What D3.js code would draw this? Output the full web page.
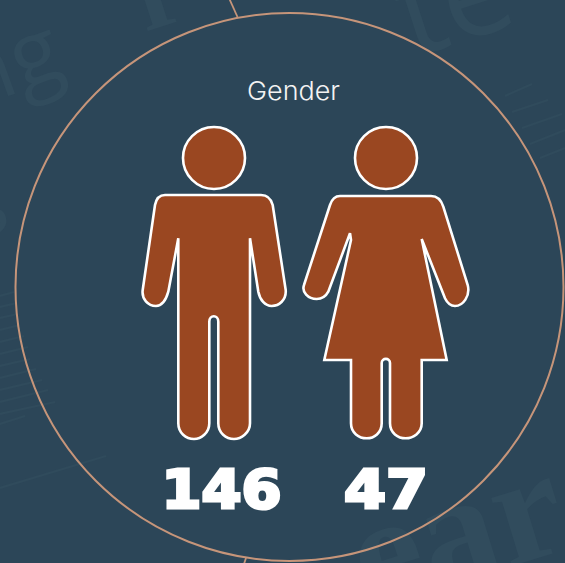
<!DOCTYPE html>
<html><head><meta charset="utf-8">
<script src="https://cdn.jsdelivr.net/npm/d3@7"></script>
<style>html,body{margin:0;padding:0;background:#2c4658;overflow:hidden}svg{display:block}</style>
</head><body><svg id="c" width="565" height="563"></svg>
<script>
const categories = ["Male", "Female"];
const counts = [146, 47];
const countWidths = [120, 84];
const chartTitle = "Gender";
const bgWords = [
  {t:"ng", x:-30, y:110, s:90, r:-20, f:"'Open Sans',sans-serif", w:400},
  {t:"r",  x:145, y:32,  s:110, r:-18, f:"'Liberation Serif',serif", w:700},
  {t:"te", x:412, y:58,  s:125, r:-18, f:"'Open Sans',sans-serif", w:400},
  {t:"g",  x:-35, y:225, s:80,  r:-18, f:"'Open Sans',sans-serif", w:400},
  {t:"ear",x:368, y:610, s:155, r:-17, f:"'Liberation Serif',serif", w:700}
];
const bgRules = [
  [0,296,14,292],[0,307,17,303],[0,318,18,314],[0,330,20,325],[0,342,24,336],[0,354,28,347],
  [0,366,30,359],[0,378,36,369],[0,390,42,380],[0,402,48,390],[0,414,55,402],[0,424,25,416],[0,488,106,456],
  [505,96,532,84],[512,112,548,100],[522,128,562,114],[530,144,565,130],[540,158,565,148]
];
const manPath = "M165 195H261Q270 195 272.7 205L285.7 290C286.5 300 279 306 271.7 306C265 306 260 300 258.3 291.7L250 238.3V423.3C250 433 241 439 234 439C226 439 218.3 433 218.3 423.3V321.7C218.3 314.5 209.3 314.5 209.3 321.7V423.3C209.3 433 201 439 194 439C186 439 178.3 433 178.3 423.3V238.3L168.3 291.7C166 300 162 306 156 306C148 306 141.5 299 142.7 290L155 205Q157 195 165 195Z";
const womanPath = "M340 196H431Q440 196 443.3 206.7L467.7 285C470.5 296 463 306 455 306C450 306 447 302.5 445 298.3L421.7 239L446.7 360H421.7V423.3C421.7 433 413 438.3 405.7 438.3C398 438.3 390 433 390 423.3V363C390 357.5 381.7 357.5 381.7 363V423.3C381.7 433 374 438.3 366.7 438.3C359 438.3 351 433 351 423.3V360H324.3L351 240L350 233.3L328.3 291.7C326 296 322 299 316.7 299C308 299 301.5 292 304 285L330 205Q333 196 340 196Z";
const shapes = [manPath, womanPath];
const headCx = [214, 386];

const W = 565, H = 563;
const svg = d3.select("#c");
svg.append("rect").attr("width",W).attr("height",H).attr("fill","#2c4658");

const bgColor = "#314c5d";
svg.append("g").attr("fill",bgColor).selectAll("text").data(bgWords).join("text")
  .attr("transform",d=>`translate(${d.x},${d.y}) rotate(${d.r})`)
  .attr("font-family",d=>d.f).attr("font-weight",d=>d.w)
  .attr("font-size",d=>d.s).text(d=>d.t);
svg.append("g").attr("stroke","#304b5c").attr("stroke-width",2.2).selectAll("line").data(bgRules).join("line")
  .attr("x1",d=>d[0]).attr("y1",d=>d[1]).attr("x2",d=>d[2]).attr("y2",d=>d[3]);

const ringColor = "#c6957a";
svg.append("line").attr("x1",229).attr("y1",-2).attr("x2",237.5).attr("y2",17).attr("stroke",ringColor).attr("stroke-width",1.8);
svg.append("line").attr("x1",244).attr("y1",564).attr("x2",246).attr("y2",558).attr("stroke",ringColor).attr("stroke-width",1.8);
svg.append("circle").attr("cx",289.5).attr("cy",287).attr("r",274).attr("fill","none").attr("stroke",ringColor).attr("stroke-width",2);

svg.append("text").attr("x",293.5).attr("y",100).attr("text-anchor","middle")
  .attr("font-family","Inter,sans-serif").attr("font-size",26).attr("font-weight",300)
  .attr("textLength",93).attr("lengthAdjust","spacingAndGlyphs")
  .attr("fill","#f3f3f3").text(chartTitle);

const g = svg.selectAll("g.person").data(categories).join("g").attr("class","person");
g.append("circle").attr("cx",(d,i)=>headCx[i]).attr("cy",158).attr("r",31)
  .attr("fill","#9a4721").attr("stroke","#fff").attr("stroke-width",2.6);
g.append("path").attr("d",(d,i)=>shapes[i]).attr("fill","#9a4721").attr("stroke","#fff").attr("stroke-width",2.6).attr("stroke-linejoin","miter");

const numX = d3.scaleOrdinal().domain(categories).range([221.5,386]);
svg.selectAll("text.num").data(counts).join("text").attr("class","num")
  .attr("x",(d,i)=>numX(categories[i])).attr("y",507.5).attr("text-anchor","middle")
  .attr("font-family","'DejaVu Sans',sans-serif").attr("font-weight",700).attr("font-size",54)
  .attr("textLength",(d,i)=>countWidths[i]).attr("lengthAdjust","spacingAndGlyphs")
  .attr("stroke","#fff").attr("stroke-width",3.2).attr("fill","#fff").text(d=>d);
</script></body></html>
